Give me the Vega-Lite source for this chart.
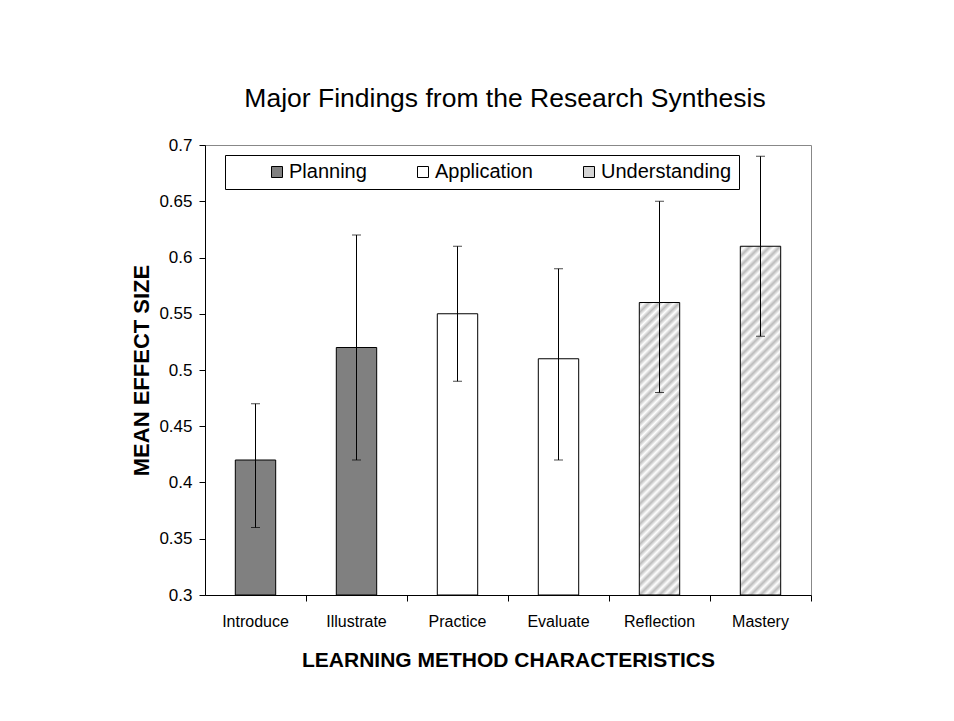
{
  "$schema": "https://vega.github.io/schema/vega-lite/v6.json",
  "width": 606,
  "height": 450,
  "autosize": {"type": "none"},
  "padding": {"left": 205, "top": 145, "right": 143, "bottom": 126},
  "background": "white",
  "config": {
    "font": "Liberation Sans",
    "view": {"stroke": "#888888", "strokeWidth": 1},
    "axis": {"grid": false, "domainColor": "black", "tickColor": "black", "labelColor": "black", "titleColor": "black", "domainWidth": 1, "tickWidth": 1}
  },
  "title": {"text": "Major Findings from the Research Synthesis", "fontSize": 26.5, "fontWeight": "normal", "color": "black", "anchor": "middle", "frame": "group", "offset": 24, "dx": -3},
  "data": {"values": [
    {"method": "Introduce", "group": "Planning", "mean": 0.42, "lo": 0.36, "hi": 0.47},
    {"method": "Illustrate", "group": "Planning", "mean": 0.52, "lo": 0.42, "hi": 0.62},
    {"method": "Practice", "group": "Application", "mean": 0.55, "lo": 0.49, "hi": 0.61},
    {"method": "Evaluate", "group": "Application", "mean": 0.51, "lo": 0.42, "hi": 0.59},
    {"method": "Reflection", "group": "Understanding", "mean": 0.56, "lo": 0.48, "hi": 0.65},
    {"method": "Mastery", "group": "Understanding", "mean": 0.61, "lo": 0.53, "hi": 0.69}
  ]},
  "resolve": {"axis": {"x": "independent"}},
  "layer": [
    {
      "mark": {"type": "bar", "stroke": "black", "strokeWidth": 1},
      "encoding": {
        "x": {"field": "method", "type": "nominal", "sort": null,
          "scale": {"paddingInner": 0.6, "paddingOuter": 0.3},
          "axis": {"orient": "bottom", "title": "LEARNING METHOD CHARACTERISTICS", "titleFontSize": 21, "titleFontWeight": "bold", "titlePadding": 20, "labelFontSize": 16, "labelAngle": 0, "ticks": false, "labelPadding": 18}},
        "y": {"field": "mean", "type": "quantitative",
          "scale": {"domain": [0.3, 0.7], "zero": false, "nice": false},
          "axis": {"values": [0.3, 0.35, 0.4, 0.45, 0.5, 0.55, 0.6, 0.65, 0.7], "format": ".2~f", "labelFontSize": 17, "tickSize": 6, "labelPadding": 7, "title": "MEAN EFFECT SIZE", "titleFontSize": 22, "titleFontWeight": "bold", "titlePadding": 5}},
        "y2": {"datum": 0.3},
        "fill": {
          "condition": [
            {"test": "datum.method === 'Reflection'", "value": {"gradient": "linear", "x1": 0, "y1": 0, "x2": 0.15426, "y2": 1.11682, "stops": [
              {"offset": 0, "color": "#bbb"}, {"offset": 0.0152, "color": "#fff"}, {"offset": 0.0303, "color": "#bbb"}, {"offset": 0.0455, "color": "#fff"}, {"offset": 0.0606, "color": "#bbb"}, {"offset": 0.0758, "color": "#fff"}, {"offset": 0.0909, "color": "#bbb"}, {"offset": 0.1061, "color": "#fff"}, {"offset": 0.1212, "color": "#bbb"}, {"offset": 0.1364, "color": "#fff"}, {"offset": 0.1515, "color": "#bbb"}, {"offset": 0.1667, "color": "#fff"}, {"offset": 0.1818, "color": "#bbb"}, {"offset": 0.1970, "color": "#fff"}, {"offset": 0.2121, "color": "#bbb"}, {"offset": 0.2273, "color": "#fff"}, {"offset": 0.2424, "color": "#bbb"}, {"offset": 0.2576, "color": "#fff"}, {"offset": 0.2727, "color": "#bbb"}, {"offset": 0.2879, "color": "#fff"}, {"offset": 0.3030, "color": "#bbb"}, {"offset": 0.3182, "color": "#fff"}, {"offset": 0.3333, "color": "#bbb"}, {"offset": 0.3485, "color": "#fff"}, {"offset": 0.3636, "color": "#bbb"}, {"offset": 0.3788, "color": "#fff"}, {"offset": 0.3939, "color": "#bbb"}, {"offset": 0.4091, "color": "#fff"}, {"offset": 0.4242, "color": "#bbb"}, {"offset": 0.4394, "color": "#fff"}, {"offset": 0.4545, "color": "#bbb"}, {"offset": 0.4697, "color": "#fff"}, {"offset": 0.4848, "color": "#bbb"}, {"offset": 0.5, "color": "#fff"}, {"offset": 0.5152, "color": "#bbb"}, {"offset": 0.5303, "color": "#fff"}, {"offset": 0.5455, "color": "#bbb"}, {"offset": 0.5606, "color": "#fff"}, {"offset": 0.5758, "color": "#bbb"}, {"offset": 0.5909, "color": "#fff"}, {"offset": 0.6061, "color": "#bbb"}, {"offset": 0.6212, "color": "#fff"}, {"offset": 0.6364, "color": "#bbb"}, {"offset": 0.6515, "color": "#fff"}, {"offset": 0.6667, "color": "#bbb"}, {"offset": 0.6818, "color": "#fff"}, {"offset": 0.6970, "color": "#bbb"}, {"offset": 0.7121, "color": "#fff"}, {"offset": 0.7273, "color": "#bbb"}, {"offset": 0.7424, "color": "#fff"}, {"offset": 0.7576, "color": "#bbb"}, {"offset": 0.7727, "color": "#fff"}, {"offset": 0.7879, "color": "#bbb"}, {"offset": 0.8030, "color": "#fff"}, {"offset": 0.8182, "color": "#bbb"}, {"offset": 0.8333, "color": "#fff"}, {"offset": 0.8485, "color": "#bbb"}, {"offset": 0.8636, "color": "#fff"}, {"offset": 0.8788, "color": "#bbb"}, {"offset": 0.8939, "color": "#fff"}, {"offset": 0.9091, "color": "#bbb"}, {"offset": 0.9242, "color": "#fff"}, {"offset": 0.9394, "color": "#bbb"}, {"offset": 0.9545, "color": "#fff"}, {"offset": 0.9697, "color": "#bbb"}, {"offset": 0.9848, "color": "#fff"}, {"offset": 1, "color": "#bbb"}
            ]}},
            {"test": "datum.method === 'Mastery'", "value": {"gradient": "linear", "x1": 0, "y1": 0, "x2": 0.12755, "y2": 1.10107, "stops": [
              {"offset": 0, "color": "#bbb"}, {"offset": 0.0128, "color": "#fff"}, {"offset": 0.0256, "color": "#bbb"}, {"offset": 0.0385, "color": "#fff"}, {"offset": 0.0513, "color": "#bbb"}, {"offset": 0.0641, "color": "#fff"}, {"offset": 0.0769, "color": "#bbb"}, {"offset": 0.0897, "color": "#fff"}, {"offset": 0.1026, "color": "#bbb"}, {"offset": 0.1154, "color": "#fff"}, {"offset": 0.1282, "color": "#bbb"}, {"offset": 0.1410, "color": "#fff"}, {"offset": 0.1538, "color": "#bbb"}, {"offset": 0.1667, "color": "#fff"}, {"offset": 0.1795, "color": "#bbb"}, {"offset": 0.1923, "color": "#fff"}, {"offset": 0.2051, "color": "#bbb"}, {"offset": 0.2179, "color": "#fff"}, {"offset": 0.2308, "color": "#bbb"}, {"offset": 0.2436, "color": "#fff"}, {"offset": 0.2564, "color": "#bbb"}, {"offset": 0.2692, "color": "#fff"}, {"offset": 0.2821, "color": "#bbb"}, {"offset": 0.2949, "color": "#fff"}, {"offset": 0.3077, "color": "#bbb"}, {"offset": 0.3205, "color": "#fff"}, {"offset": 0.3333, "color": "#bbb"}, {"offset": 0.3462, "color": "#fff"}, {"offset": 0.3590, "color": "#bbb"}, {"offset": 0.3718, "color": "#fff"}, {"offset": 0.3846, "color": "#bbb"}, {"offset": 0.3974, "color": "#fff"}, {"offset": 0.4103, "color": "#bbb"}, {"offset": 0.4231, "color": "#fff"}, {"offset": 0.4359, "color": "#bbb"}, {"offset": 0.4487, "color": "#fff"}, {"offset": 0.4615, "color": "#bbb"}, {"offset": 0.4744, "color": "#fff"}, {"offset": 0.4872, "color": "#bbb"}, {"offset": 0.5, "color": "#fff"}, {"offset": 0.5128, "color": "#bbb"}, {"offset": 0.5256, "color": "#fff"}, {"offset": 0.5385, "color": "#bbb"}, {"offset": 0.5513, "color": "#fff"}, {"offset": 0.5641, "color": "#bbb"}, {"offset": 0.5769, "color": "#fff"}, {"offset": 0.5897, "color": "#bbb"}, {"offset": 0.6026, "color": "#fff"}, {"offset": 0.6154, "color": "#bbb"}, {"offset": 0.6282, "color": "#fff"}, {"offset": 0.6410, "color": "#bbb"}, {"offset": 0.6538, "color": "#fff"}, {"offset": 0.6667, "color": "#bbb"}, {"offset": 0.6795, "color": "#fff"}, {"offset": 0.6923, "color": "#bbb"}, {"offset": 0.7051, "color": "#fff"}, {"offset": 0.7179, "color": "#bbb"}, {"offset": 0.7308, "color": "#fff"}, {"offset": 0.7436, "color": "#bbb"}, {"offset": 0.7564, "color": "#fff"}, {"offset": 0.7692, "color": "#bbb"}, {"offset": 0.7821, "color": "#fff"}, {"offset": 0.7949, "color": "#bbb"}, {"offset": 0.8077, "color": "#fff"}, {"offset": 0.8205, "color": "#bbb"}, {"offset": 0.8333, "color": "#fff"}, {"offset": 0.8462, "color": "#bbb"}, {"offset": 0.8590, "color": "#fff"}, {"offset": 0.8718, "color": "#bbb"}, {"offset": 0.8846, "color": "#fff"}, {"offset": 0.8974, "color": "#bbb"}, {"offset": 0.9103, "color": "#fff"}, {"offset": 0.9231, "color": "#bbb"}, {"offset": 0.9359, "color": "#fff"}, {"offset": 0.9487, "color": "#bbb"}, {"offset": 0.9615, "color": "#fff"}, {"offset": 0.9744, "color": "#bbb"}, {"offset": 0.9872, "color": "#fff"}, {"offset": 1, "color": "#bbb"}
            ]}}
          ],
          "field": "group", "type": "nominal",
          "scale": {"domain": ["Planning", "Application", "Understanding"], "range": ["#808080", "#ffffff", "#d4d4d4"]},
          "legend": {"orient": "none", "legendX": 20, "legendY": 10, "direction": "horizontal", "title": "\u00a0", "titleOrient": "left", "titlePadding": 35, "titleFontSize": 10, "padding": 7, "strokeColor": "black", "fillColor": "white", "symbolType": "square", "symbolSize": 121, "symbolStrokeColor": "black", "symbolStrokeWidth": 1, "labelFontSize": 20, "labelColor": "black", "labelOffset": 2, "columnPadding": 46, "labelExpr": "datum.label === 'Understanding' ? 'Understanding\u00a0\u00a0\u00a0\u00a0' : datum.label"}
        }
      }
    },
    {
      "mark": {"type": "rule", "color": "black", "strokeWidth": 1},
      "encoding": {
        "x": {"field": "method", "type": "nominal", "sort": null,
          "axis": {"orient": "bottom", "title": null, "labels": false, "domain": false, "ticks": true, "tickSize": 6, "tickOffset": 50.5, "tickColor": "black"}},
        "y": {"field": "lo", "type": "quantitative"}, "y2": {"field": "hi"}
      }
    },
    {
      "mark": {"type": "tick", "color": "black", "size": 9, "thickness": 1},
      "encoding": {
        "x": {"field": "method", "type": "nominal", "sort": null, "axis": null},
        "y": {"field": "lo", "type": "quantitative"}
      }
    },
    {
      "mark": {"type": "tick", "color": "black", "size": 9, "thickness": 1},
      "encoding": {
        "x": {"field": "method", "type": "nominal", "sort": null, "axis": null},
        "y": {"field": "hi", "type": "quantitative"}
      }
    }
  ]
}
